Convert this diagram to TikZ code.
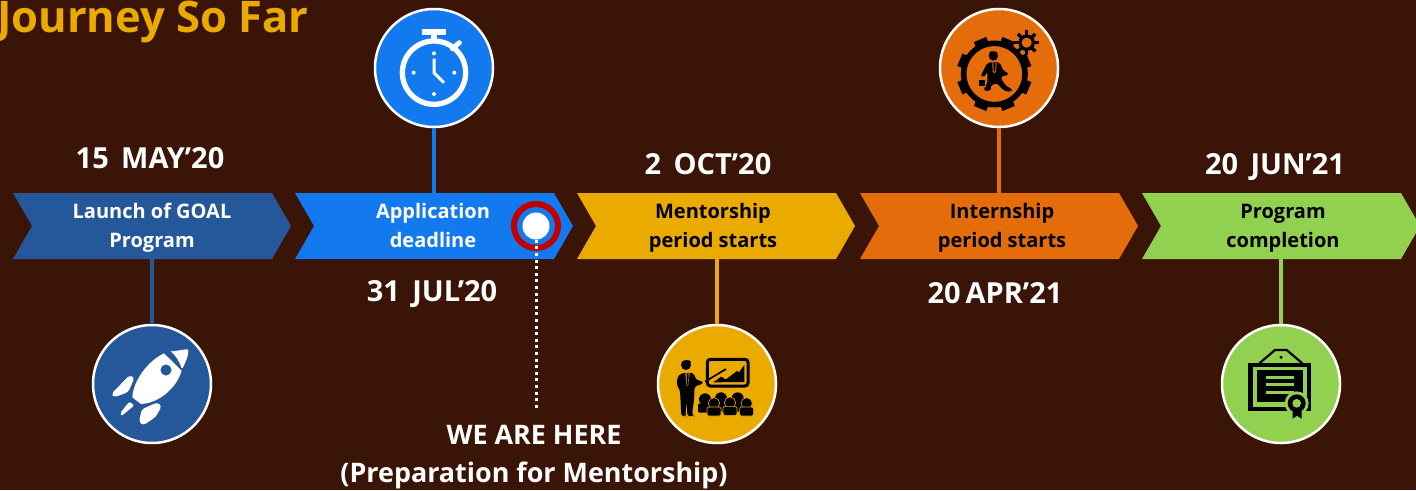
\documentclass[tikz,border=0pt]{standalone}
\usepackage{fontspec}
\setmainfont{Open Sans}
\definecolor{bgc}{HTML}{3B1408}
\definecolor{cblue}{HTML}{24589A}
\definecolor{cazure}{HTML}{1279EE}
\definecolor{cgold}{HTML}{EBAA00}
\definecolor{corange}{HTML}{E46C0A}
\definecolor{cgreen}{HTML}{92D050}
\definecolor{cred}{HTML}{C00000}
\newcommand{\chev}[2]{\fill[#2] (#1,193) -- (#1+259,193) -- (#1+278,226) -- (#1+259,259) -- (#1,259) -- (#1+19,226) -- cycle;}
\tikzset{
  iconc/.style={circle,draw=white,line width=2.5pt,minimum size=118pt,inner sep=0pt,fill=#1},
  steplabel/.style={font=\fontsize{20}{29}\selectfont\bfseries,text=white,align=center,inner sep=0pt},
  darklabel/.style={steplabel,text=black},
  datelabel/.style={font=\fontsize{29}{38}\selectfont\bfseries,text=white,align=center,inner sep=0pt},
  zoomA/.style={x=0.33333pt,y=-0.33333pt},
}
\begin{document}
\begin{tikzpicture}[x=1pt,y=-1pt]
\useasboundingbox (0,0) rectangle (1416,490);
\fill[bgc] (0,0) rectangle (1416,490);
\begin{scope}
\clip (0,0) rectangle (1416,490);
\chev{13}{cblue}
\chev{295}{cazure}
\chev{577}{cgold}
\chev{860}{corange}
\chev{1142}{cgreen}
\end{scope}
% title
\node[anchor=west,inner sep=0pt,text=cgold,font=\fontsize{43.5}{50}\selectfont\bfseries] (title) at (-3,22) {Journey So Far};
% step labels
\node[steplabel] (la) at (152,228) {Launch of GOAL\\Program};
\node[steplabel] (lb) at (433,225) {Application\\deadline};
\node[darklabel] (lc) at (713,228) {Mentorship\\period starts};
\node[darklabel] (ld) at (1002,228) {Internship\\period starts};
\node[darklabel] (le) at (1283,228) {Program\\completion};
% dates
\node[datelabel] (da) at (150,158) {15\, MAY’20};
\node[datelabel] (db) at (432,294) {31\, JUL’20};
\node[datelabel] (dc) at (708,164) {2\, OCT’20};
\node[datelabel] (dd) at (995,293) {20\,APR’21};
\node[datelabel] (de) at (1275,167) {20\, JUN’21};
\node[datelabel,font=\fontsize{26.9}{38}\selectfont\bfseries] (here) at (534,457) {WE ARE HERE\\(Preparation for Mentorship)};
% circles
\node[iconc=cblue] (ca) at (152,384) {};
\node[iconc=cazure] (cb) at (434,68) {};
\node[iconc=cgold] (cc) at (717,384) {};
\node[iconc=corange] (cd) at (999,68) {};
\node[iconc=cgreen] (ce) at (1281,384) {};
% connectors
\coordinate (abc) at (152,259);
\coordinate (bbc) at (434,193);
\coordinate (cbc) at (717,259);
\coordinate (dbc) at (999,193);
\coordinate (ebc) at (1281,259);
\draw[cblue,line width=4.5pt] (abc) -- (ca);
\draw[cazure,line width=4.5pt] (bbc) -- (cb);
\draw[cgold,line width=4.5pt] (cbc) -- (cc);
\draw[corange,line width=4.5pt] (dbc) -- (cd);
\draw[cgreen,line width=4.5pt] (ebc) -- (ce);
% marker
\node[circle,fill=white,minimum size=27pt,inner sep=0pt] (mark) at (536,226) {};
\node[circle,draw=cred,line width=6pt,minimum size=44pt,inner sep=0pt] (ring) at (536,226) {};
\coordinate (dotend) at (536,408);
\draw[white,line width=3pt,dash pattern=on 3pt off 3.6pt] (mark) -- (dotend);
% rocket
\begin{scope}[shift={(80pt,-320pt)},zoomA]
\fill[white,rounded corners=1.5pt] (272,95) -- (325,87) .. controls (325,110) and (315,130) .. (306,148) .. controls (298,122) and (285,105) .. cycle;
\fill[white,even odd rule] (252,100) .. controls (205,122) and (160,180) .. (157,232) -- (183,252) .. controls (235,250) and (290,205) .. (305,152) -- cycle (258,150) circle[radius=17];
\fill[white,rounded corners=3pt] (148,166) -- (164,172) -- (145,216) -- (103,232) -- (94,222) -- cycle;
\fill[white,rounded corners=3pt] (232,247) -- (245,258) -- (228,290) -- (190,316) -- (177,306) -- (185,268) -- cycle;
\fill[white,rounded corners=2pt] (148,245) -- (163,256) -- (125,288) -- (120,280) -- cycle;
\end{scope}
% stopwatch
\begin{scope}[shift={(365pt,0pt)},zoomA]
\fill[white] (170,87) rectangle (243,105);
\fill[white] (197,105) rectangle (217,122);
\draw[white,line width=5.3pt] (207,218) circle[radius=95];
\draw[white,line width=5pt,line cap=round] (262,146) -- (283,128);
\foreach \p in {(207,160),(207,282),(146,218),(268,218)} \fill[white] \p circle[radius=6];
\draw[white,line width=3pt,miter limit=4] (207,176) -- (207,218) -- (237,248);
\end{scope}
% teacher
\begin{scope}[shift={(650pt,-320pt)},zoomA]
\fill[black] (108,135) circle[radius=15];
\fill[black,rounded corners=2pt] (92,132) -- (100,120) -- (124,122) -- (122,132) -- cycle;
\fill[black,rounded corners=3pt] (92,160) -- (130,158) -- (140,182) -- (158,182) -- (158,193) -- (134,198) -- (132,240) -- (126,285) -- (131,289) -- (112,289) -- (110,245) -- (106,285) -- (108,289) -- (94,289) -- (90,210) -- (80,195) -- (82,172) -- cycle;
\fill[cgold] (106,160) -- (119,160) -- (115,195) -- (112,198) -- (109,195) -- cycle;
\fill[black] (110,160) -- (116,160) -- (115,192) -- (112,197) -- (110,192) -- cycle;
\draw[black,line width=3pt,rounded corners=3pt] (172,118) rectangle (294,198);
\fill[black] (190,187) -- (213,170) -- (228,178) -- (262,152) -- (266,158) -- (283,135) -- (283,186) -- cycle;
\draw[black,line width=1.7pt] (165,185) -- (228,147);
\foreach \x/\y in {165/238,213/235,263/235} {
  \fill[black] (\x,\y) circle[radius=18];
  \fill[black,rounded corners=2pt] (\x-21,\y+12) rectangle (\x+21,\y+40);
}
\foreach \x/\y in {192/250,240/248,290/250} {
  \fill[black,draw=cgold,line width=0.6pt] (\x,\y) circle[radius=17];
  \fill[black,draw=cgold,line width=0.6pt,rounded corners=2pt] (\x-21,\y+11) rectangle (\x+21,\y+38);
}
\end{scope}
% intern
\begin{scope}[shift={(930pt,0pt)},zoomA]
\draw[black,line width=5.6pt] (193,222) circle[radius=92];
\foreach \a in {22.5,67.5,...,360} \fill[black,rotate around={-\a:(193,222)}] (193+85,222-20) rectangle (193+112,222+20);
\draw[black,line width=3.2pt] (290,128) circle[radius=20];
\foreach \a in {0,45,...,360} \fill[black,rotate around={-\a:(290,128)}] (290+20,128-5) rectangle (290+37,128+5);
\fill[black] (190,168) circle[radius=14];
\fill[black,rounded corners=1.5pt] (177,166) -- (180,153) -- (203,156) -- (203,166) -- cycle;
\fill[black,rounded corners=2pt] (172,188) -- (208,186) -- (222,215) -- (235,218) -- (232,228) -- (216,226) -- (212,235) -- (228,258) -- (247,268) -- (243,276) -- (222,272) -- (198,248) -- (180,260) -- (185,268) -- (165,275) -- (160,265) -- (172,252) -- (172,215) -- (163,232) -- (152,228) -- cycle;
\fill[corange] (187,187) -- (200,187) -- (198,215) -- (193,220) -- (188,215) -- cycle;
\fill[black] (190,187) -- (197,187) -- (196,212) -- (193,216) -- (191,212) -- cycle;
\fill[black,rounded corners=1pt] (144,238) rectangle (166,260);
\draw[corange,line width=0.5pt] (144,238) rectangle (166,260);
\end{scope}
% certificate
\begin{scope}[shift={(1215pt,-320pt)},zoomA]
\fill[black] (100,128) rectangle (288,272);
\fill[cgreen] (113,140) rectangle (276,260);
\fill[black] (127,151) rectangle (263,245);
\foreach \y in {167,189,212} \fill[cgreen] (152,\y) rectangle (238,\y+10);
\draw[black,line width=2.2pt] (133,130) -- (180,90) -- (215,90) -- (262,130);
\fill[black] (198,112) circle[radius=5];
\fill[cgreen] (245,250) circle[radius=36];
\fill[black] (233,270) -- (233,296) -- (246,287) -- (260,296) -- (260,270) -- cycle;
\fill[black] (245,250) circle[radius=27];
\fill[cgreen] (245,250) circle[radius=13];
\end{scope}
\end{tikzpicture}
\end{document}
